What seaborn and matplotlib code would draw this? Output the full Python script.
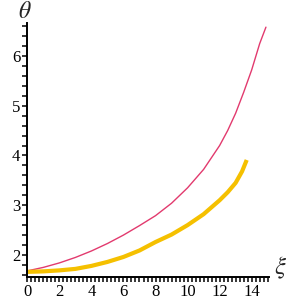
import numpy as np
import pandas as pd
import matplotlib
matplotlib.use("Agg")
import matplotlib.pyplot as plt
from matplotlib.ticker import MultipleLocator
import seaborn as sns

# values
xi_red = [0, 1, 2, 3, 4, 5, 6, 7, 8, 9, 10, 11, 12, 12.5, 13, 13.5, 14, 14.5, 14.89]
theta_red = [1.68, 1.75, 1.84, 1.95, 2.08, 2.23, 2.40, 2.59, 2.79, 3.04, 3.35, 3.72, 4.20,
             4.50, 4.85, 5.27, 5.72, 6.25, 6.58]

xi_yellow = [0, 1, 2, 3, 4, 5, 6, 7, 8, 9, 10, 11, 12, 12.5, 13, 13.4, 13.69]
theta_yellow = [1.66, 1.67, 1.69, 1.72, 1.78, 1.86, 1.96, 2.09, 2.26, 2.41, 2.60, 2.82, 3.10,
                3.26, 3.45, 3.68, 3.91]

df_red = pd.DataFrame({"xi": xi_red, "theta": theta_red})
df_yellow = pd.DataFrame({"xi": xi_yellow, "theta": theta_yellow})

sns.set_style("ticks")
plt.rcParams["font.family"] = ["Liberation Serif", "DejaVu Serif"]
plt.rcParams["mathtext.fontset"] = "stix"

fig = plt.figure(figsize=(2.86, 3.02), dpi=100)
# axes box in figure fractions, spines at x=27px, y=277px
ax = fig.add_axes([0.0955, 0.0828, 0.845, 0.8421])

sns.lineplot(data=df_red, x="xi", y="theta", color="#e23a6e", linewidth=1.0, ax=ax)
sns.lineplot(data=df_yellow, x="xi", y="theta", color="#f5c000", linewidth=3.0,
             solid_capstyle="butt", ax=ax)

ax.set_xlim(0, 15.08)
ax.set_ylim(1.557, 6.67)
ax.set_xlabel("")
ax.set_ylabel("")

ax.xaxis.set_major_locator(MultipleLocator(2))
ax.xaxis.set_minor_locator(MultipleLocator(0.25))
ax.set_yticks([2, 3, 4, 5, 6])
ax.yaxis.set_minor_locator(MultipleLocator(0.2))

ax.tick_params(which="both", direction="out", length=3.5, width=1.1, colors="black",
               labelsize=12, pad=1.5)
for s in ["top", "right"]:
    ax.spines[s].set_visible(False)
for s in ["left", "bottom"]:
    ax.spines[s].set_linewidth(1.4)
    ax.spines[s].set_color("black")

ax.text(-0.01, 1.0, r"$\theta$", transform=ax.transAxes, fontsize=17,
        ha="center", va="bottom", clip_on=False)
ax.text(1.02, 0.035, r"$\xi$", transform=ax.transAxes, fontsize=18,
        ha="left", va="center", clip_on=False)

fig.savefig("out.png", dpi=100)
